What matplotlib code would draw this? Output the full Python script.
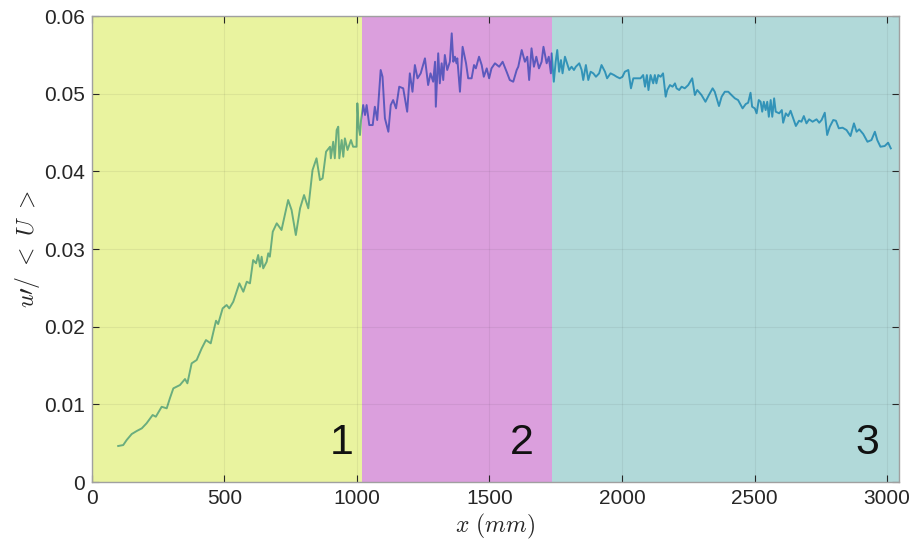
import numpy as np
import matplotlib.pyplot as plt

# streamwise position (mm) and turbulence intensity u'/<U>
x_mm = [100, 119, 132, 151, 170, 189, 207, 230, 242, 264, 283, 295, 308, 333, 352,
        361, 377, 396, 415, 431, 449, 469, 477, 494, 509, 519, 534, 557, 572, 585,
        597, 609, 620, 628, 635, 641, 647, 660, 666, 672, 683, 698, 716, 741, 754,
        770, 786, 801, 817, 833, 848, 861, 871, 884, 899, 902, 911, 917, 924, 930,
        934, 943, 949, 955, 965, 978, 986, 999, 1002, 1007, 1012, 1016,
        1024, 1031, 1037, 1047, 1060, 1068, 1077, 1090, 1097, 1106, 1119, 1128, 1137,
        1148, 1160, 1175, 1190, 1200, 1210, 1219, 1229, 1241, 1257, 1269, 1278, 1288,
        1295, 1298, 1307, 1313, 1320, 1326, 1332, 1341, 1351, 1358, 1364, 1370, 1376,
        1379, 1389, 1399, 1412, 1420, 1433, 1442, 1449, 1461, 1471, 1479, 1490, 1499,
        1508, 1521, 1537, 1550, 1565, 1577, 1590, 1603, 1609, 1622, 1634, 1643, 1650,
        1659, 1668, 1677, 1687, 1697, 1704, 1716, 1724, 1732, 1735,
        1743, 1750, 1756, 1763, 1770, 1776, 1785, 1791, 1801, 1810, 1819, 1826, 1839,
        1848, 1854, 1864, 1873, 1882, 1892, 1902, 1914, 1923, 1936, 1944, 1957, 1970,
        1980, 1992, 2002, 2011, 2024, 2034, 2043, 2055, 2070, 2080, 2087, 2094, 2100,
        2108, 2118, 2124, 2130, 2137, 2146, 2155, 2165, 2171, 2181, 2191, 2200, 2206,
        2216, 2225, 2237, 2250, 2265, 2275, 2284, 2300, 2315, 2328, 2342, 2350, 2366,
        2376, 2388, 2401, 2413, 2426, 2438, 2455, 2467, 2476, 2485, 2491, 2501, 2508,
        2516, 2523, 2529, 2535, 2542, 2548, 2554, 2561, 2567, 2574, 2580, 2593, 2603,
        2608, 2618, 2627, 2636, 2646, 2656, 2668, 2677, 2686, 2696, 2706, 2719, 2734,
        2744, 2753, 2765, 2774, 2784, 2797, 2807, 2818, 2832, 2847, 2862, 2875, 2885,
        2895, 2910, 2926, 2941, 2954, 2963, 2975, 2991, 3004, 3014]
u_rms = [0.00464, 0.00476, 0.00541, 0.00618, 0.00657, 0.00691, 0.00756, 0.00863, 0.00841,
         0.00969, 0.00949, 0.01078, 0.01206, 0.01249, 0.01326, 0.01271, 0.01528, 0.01571,
         0.01721, 0.01828, 0.01786, 0.02077, 0.02034, 0.02236, 0.02279, 0.02236, 0.02321,
         0.02558, 0.02450, 0.02579, 0.02558, 0.02858, 0.02816, 0.02923, 0.02772, 0.02901,
         0.02751, 0.02836, 0.02945, 0.02901, 0.03223, 0.03331, 0.03245, 0.03631, 0.03502,
         0.03180, 0.03524, 0.03695, 0.03524, 0.04017, 0.04168, 0.03888, 0.03910, 0.04253,
         0.04317, 0.04168, 0.04381, 0.04168, 0.04532, 0.04575, 0.04168, 0.04403, 0.04188,
         0.04425, 0.04275, 0.04403, 0.04317, 0.04317, 0.04876, 0.04575, 0.04468, 0.04661,
         0.04854, 0.04725, 0.04854, 0.04596, 0.04596, 0.04832, 0.04661, 0.05305, 0.05218,
         0.04683, 0.04510, 0.04854, 0.04918, 0.04811, 0.05090, 0.05069, 0.04768, 0.05262,
         0.05025, 0.05369, 0.05198, 0.05262, 0.05455, 0.05111, 0.05262, 0.05154, 0.05411,
         0.04832, 0.05520, 0.05133, 0.05391, 0.05176, 0.05498, 0.05305, 0.05411, 0.05777,
         0.05411, 0.05476, 0.05391, 0.05455, 0.05025, 0.05604, 0.05391, 0.05198, 0.05198,
         0.05369, 0.05326, 0.05476, 0.05369, 0.05218, 0.05326, 0.05198, 0.05326, 0.05391,
         0.05347, 0.05411, 0.05283, 0.05176, 0.05154, 0.05305, 0.05347, 0.05562, 0.05411,
         0.05476, 0.05176, 0.05584, 0.05347, 0.05476, 0.05326, 0.05411, 0.05604, 0.05391,
         0.05476, 0.05262, 0.05520,
         0.05154, 0.05411, 0.05562, 0.05283, 0.05433, 0.05262, 0.05476, 0.05411, 0.05305,
         0.05347, 0.05305, 0.05347, 0.05391, 0.05305, 0.05176, 0.05369, 0.05176, 0.05283,
         0.05262, 0.05218, 0.05262, 0.05369, 0.05283, 0.05198, 0.05262, 0.05240, 0.05218,
         0.05198, 0.05218, 0.05283, 0.05305, 0.05069, 0.05198, 0.05198, 0.05198, 0.05240,
         0.05090, 0.05240, 0.05047, 0.05240, 0.05133, 0.05240, 0.05133, 0.05240, 0.05218,
         0.05262, 0.04961, 0.05047, 0.05111, 0.05090, 0.05133, 0.05069, 0.05047, 0.05090,
         0.05069, 0.05111, 0.05198, 0.04983, 0.05047, 0.04983, 0.04896, 0.04983, 0.05069,
         0.05025, 0.04841, 0.04961, 0.05025, 0.05025, 0.04983, 0.04940, 0.04918, 0.04811,
         0.04867, 0.04883, 0.05012, 0.04832, 0.04811, 0.04747, 0.04918, 0.04896, 0.04768,
         0.04896, 0.04789, 0.04896, 0.04703, 0.04918, 0.04703, 0.04940, 0.04768, 0.04747,
         0.04789, 0.04626, 0.04747, 0.04712, 0.04780, 0.04683, 0.04584, 0.04652, 0.04639,
         0.04712, 0.04618, 0.04670, 0.04639, 0.04670, 0.04626, 0.04661, 0.04755, 0.04468,
         0.04575, 0.04661, 0.04652, 0.04554, 0.04562, 0.04532, 0.04455, 0.04618, 0.04510,
         0.04541, 0.04481, 0.04381, 0.04403, 0.04510, 0.04403, 0.04317, 0.04326, 0.04369,
         0.04296]

# flow regions (mm) and their labels
region_edges = [0, 1019, 1737, 3045]
region_labels = ['1', '2', '3']
region_colors = ['#d5e941', '#b941bd', '#65b5b5']
label_x = [944, 1623, 2927]

plt.rcParams['font.family'] = ['Liberation Sans', 'DejaVu Sans']
plt.rcParams['mathtext.fontset'] = 'cm'

fig = plt.figure(figsize=(9.14, 5.41), dpi=100)
ax = fig.add_axes([0.1003, 0.109, 0.8833, 0.8614])

ax.plot(x_mm, u_rms, color='#0072BD', linewidth=1.4, zorder=1)

# translucent region patches over the curve (as in the original figure)
for i in range(3):
    ax.axvspan(region_edges[i], region_edges[i + 1], color=region_colors[i],
               alpha=0.5, linewidth=0, zorder=2)
    ax.text(label_x[i], 0.0036, region_labels[i], fontsize=31, ha='center',
            va='baseline', color='#111111', zorder=4)

ax.set_xlim(0, 3045)
ax.set_ylim(0, 0.06)
ax.set_xticks(np.arange(0, 3001, 500))
ax.set_yticks(np.arange(0, 0.061, 0.01))
ax.set_yticklabels(['0', '0.01', '0.02', '0.03', '0.04', '0.05', '0.06'])

ax.set_axisbelow(False)
ax.grid(True, color='#262626', alpha=0.07, linewidth=0.8, zorder=3)
ax.tick_params(direction='in', length=5, width=0.8, labelsize=15,
               colors='#262626', top=True, right=True, pad=5)
for s in ax.spines.values():
    s.set_color('#a0a0a0')
    s.set_linewidth(1.0)
    s.set_zorder(5)

ax.set_xlabel(r'$x\ (mm)$', fontsize=17, labelpad=3, color='#262626')
ax.set_ylabel(r"$u\prime/\ <\ U\ >$", fontsize=17, labelpad=1, color='#262626')

fig.savefig('out.png', dpi=100)
